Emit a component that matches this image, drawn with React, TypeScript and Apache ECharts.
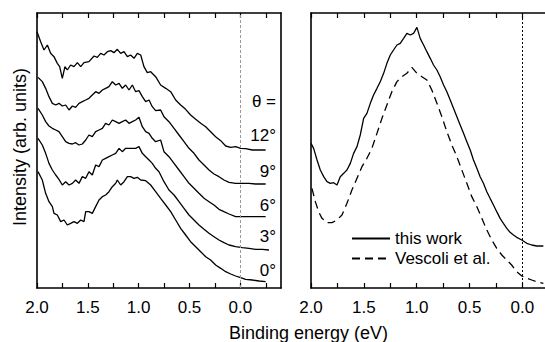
import React, { useEffect, useRef } from "react";
import * as echarts from "echarts";

// ---- Left panel: angle-resolved spectra (binding energy in eV, intensity arb. units) ----
const e12 = [2.0, 1.964, 1.931, 1.898, 1.866, 1.833, 1.8, 1.777, 1.751, 1.725, 1.702, 1.669, 1.636, 1.603, 1.57, 1.538, 1.489, 1.439, 1.407, 1.374, 1.341, 1.308, 1.275, 1.243, 1.21, 1.177, 1.144, 1.111, 1.079, 1.046, 1.013, 0.98, 0.948, 0.915, 0.882, 0.833, 0.784, 0.734, 0.685, 0.636, 0.587, 0.538, 0.489, 0.439, 0.39, 0.341, 0.292, 0.243, 0.193, 0.144, 0.095, 0.046, -0.003, -0.052, -0.118, -0.184, -0.249];
const i12 = [769, 739, 714, 729, 704, 694, 674, 664, 629, 664, 654, 669, 664, 676, 664, 676, 679, 696, 692, 704, 699, 709, 712, 706, 716, 704, 709, 694, 699, 689, 704, 699, 664, 646, 649, 634, 609, 599, 589, 564, 549, 536, 519, 506, 494, 484, 469, 454, 442, 426, 422, 424, 419, 418, 414, 414, 414];

const e9 = [1.99, 1.948, 1.915, 1.882, 1.849, 1.816, 1.784, 1.751, 1.718, 1.685, 1.652, 1.62, 1.587, 1.554, 1.521, 1.489, 1.456, 1.423, 1.39, 1.357, 1.325, 1.292, 1.259, 1.226, 1.193, 1.161, 1.128, 1.095, 1.062, 1.03, 0.997, 0.964, 0.931, 0.898, 0.866, 0.833, 0.784, 0.751, 0.702, 0.652, 0.603, 0.554, 0.505, 0.456, 0.407, 0.357, 0.308, 0.259, 0.21, 0.161, 0.111, 0.046, -0.02, -0.085, -0.151, -0.249];
const i9 = [632, 619, 599, 574, 554, 549, 554, 546, 549, 534, 546, 542, 554, 559, 564, 569, 579, 589, 584, 594, 599, 604, 619, 609, 614, 599, 609, 594, 609, 589, 592, 574, 559, 564, 544, 532, 534, 514, 499, 479, 459, 439, 419, 404, 384, 369, 354, 342, 334, 324, 317, 314, 314, 314, 312, 312];

const e6 = [1.99, 1.948, 1.915, 1.882, 1.849, 1.816, 1.784, 1.751, 1.718, 1.685, 1.652, 1.62, 1.587, 1.554, 1.521, 1.489, 1.456, 1.423, 1.39, 1.357, 1.325, 1.292, 1.259, 1.226, 1.193, 1.161, 1.128, 1.095, 1.062, 1.03, 0.997, 0.964, 0.931, 0.898, 0.866, 0.833, 0.784, 0.751, 0.702, 0.652, 0.603, 0.554, 0.505, 0.456, 0.407, 0.357, 0.308, 0.259, 0.21, 0.161, 0.111, 0.046, -0.02, -0.085, -0.151, -0.249];
const i6 = [539, 519, 499, 486, 479, 474, 469, 454, 439, 434, 432, 436, 429, 432, 444, 459, 454, 469, 474, 479, 494, 489, 504, 499, 494, 499, 504, 494, 499, 504, 512, 484, 469, 464, 449, 439, 444, 409, 394, 374, 354, 334, 314, 299, 284, 269, 259, 249, 236, 229, 222, 214, 214, 214, 214, 214];

const e3 = [1.99, 1.948, 1.915, 1.882, 1.849, 1.816, 1.784, 1.751, 1.718, 1.685, 1.652, 1.62, 1.587, 1.554, 1.521, 1.489, 1.456, 1.423, 1.39, 1.357, 1.325, 1.292, 1.259, 1.226, 1.193, 1.161, 1.128, 1.095, 1.062, 1.03, 0.997, 0.964, 0.931, 0.898, 0.866, 0.833, 0.8, 0.751, 0.702, 0.652, 0.603, 0.554, 0.505, 0.456, 0.407, 0.357, 0.308, 0.259, 0.21, 0.161, 0.111, 0.046, -0.02, -0.085, -0.151, -0.216, -0.282];
const i3 = [449, 429, 404, 374, 354, 339, 326, 309, 319, 309, 314, 324, 314, 334, 329, 349, 339, 369, 364, 384, 389, 394, 399, 404, 419, 409, 419, 419, 419, 419, 424, 404, 394, 384, 374, 359, 349, 319, 294, 279, 259, 239, 219, 204, 189, 176, 164, 154, 144, 136, 129, 124, 121, 119, 116, 116, 114];

const e0 = [1.99, 1.948, 1.915, 1.882, 1.849, 1.833, 1.8, 1.767, 1.734, 1.702, 1.669, 1.636, 1.603, 1.57, 1.538, 1.521, 1.489, 1.456, 1.423, 1.39, 1.357, 1.325, 1.292, 1.259, 1.226, 1.21, 1.177, 1.144, 1.111, 1.079, 1.046, 1.013, 0.98, 0.931, 0.882, 0.833, 0.784, 0.734, 0.685, 0.636, 0.587, 0.538, 0.489, 0.439, 0.39, 0.341, 0.292, 0.243, 0.193, 0.144, 0.095, 0.046, -0.003, -0.052, -0.118, -0.184, -0.249];
const i0 = [349, 324, 284, 259, 244, 224, 219, 199, 204, 189, 194, 199, 194, 204, 199, 229, 229, 224, 244, 264, 274, 279, 289, 304, 314, 324, 309, 319, 334, 334, 329, 332, 324, 322, 309, 289, 269, 249, 229, 204, 179, 159, 139, 124, 109, 94, 84, 69, 59, 49, 42, 36, 31, 26, 24, 21, 19];

// ---- Right panel: comparison ----
const eThis = [2.0, 1.975, 1.943, 1.912, 1.88, 1.849, 1.817, 1.786, 1.754, 1.723, 1.691, 1.66, 1.628, 1.597, 1.565, 1.534, 1.502, 1.471, 1.439, 1.408, 1.376, 1.345, 1.313, 1.282, 1.25, 1.219, 1.187, 1.156, 1.124, 1.093, 1.061, 1.03, 0.998, 0.967, 0.935, 0.904, 0.872, 0.841, 0.809, 0.778, 0.746, 0.715, 0.683, 0.652, 0.62, 0.589, 0.557, 0.526, 0.494, 0.463, 0.431, 0.4, 0.369, 0.337, 0.306, 0.274, 0.243, 0.211, 0.18, 0.148, 0.117, 0.085, 0.054, 0.006, -0.041, -0.088, -0.135, -0.198];
const iThis = [434, 419, 384, 354, 334, 319, 314, 316, 309, 334, 344, 354, 374, 404, 424, 459, 509, 524, 554, 579, 599, 619, 644, 674, 699, 714, 729, 734, 749, 764, 759, 764, 782, 749, 729, 709, 689, 669, 654, 634, 609, 589, 564, 539, 514, 489, 464, 439, 414, 384, 359, 334, 314, 289, 269, 249, 229, 209, 194, 179, 167, 159, 152, 144, 134, 129, 126, 126];

const eVes = [1.991, 1.959, 1.928, 1.896, 1.849, 1.802, 1.754, 1.707, 1.66, 1.613, 1.565, 1.518, 1.471, 1.424, 1.376, 1.329, 1.282, 1.235, 1.187, 1.14, 1.093, 1.046, 0.998, 0.951, 0.904, 0.857, 0.809, 0.762, 0.715, 0.668, 0.62, 0.573, 0.526, 0.479, 0.431, 0.384, 0.337, 0.29, 0.243, 0.195, 0.148, 0.102, 0.054, 0.006, -0.041, -0.088, -0.135, -0.198];
const iVes = [299, 259, 229, 209, 196, 196, 204, 219, 254, 294, 329, 364, 389, 419, 464, 509, 549, 589, 619, 634, 644, 662, 644, 634, 624, 594, 554, 514, 469, 429, 394, 354, 314, 274, 244, 209, 174, 144, 119, 99, 84, 69, 49, 36, 29, 24, 19, 14];

const tickValues = [2.0, 1.75, 1.5, 1.25, 1.0, 0.75, 0.5, 0.25, 0.0, -0.25];
const labelValues = [2.0, 1.5, 1.0, 0.5, 0.0];
const angleLabels = ["θ =", "12°", "9°", "6°", "3°", "0°"];
const seriesNames = ["this work", "Vescoli et al."];

const FONT = '"Liberation Sans", Arial, sans-serif';

const pairs = (xs: number[], ys: number[]) => xs.map((x, i) => [x, ys[i]]);

export default function App() {
  const ref = useRef<HTMLDivElement>(null);
  useEffect(() => {
    if (!ref.current) return;
    const chart = echarts.init(ref.current, undefined, { renderer: "svg" });
    const axisLine = { show: true, onZero: false, lineStyle: { color: "#000", width: 1.6 } };
    const xAxisCfg = (gridIndex: number, min: number, position: string, showLabels: boolean) => ({
      type: "value",
      gridIndex,
      min,
      max: 2.0,
      inverse: true,
      position,
      axisLine,
      axisTick: {
        show: true,
        inside: true,
        length: 5,
        lineStyle: { color: "#000", width: 1.2 },
        customValues: tickValues.filter((v) => v >= min),
      },
      axisLabel: {
        show: showLabels,
        customValues: labelValues,
        formatter: (v: number) => v.toFixed(1),
        fontSize: 17,
        color: "#000",
        fontFamily: FONT,
        margin: 11,
      },
      splitLine: { show: false },
    });
    const yAxisCfg = (gridIndex: number, position: string) => ({
      type: "value",
      gridIndex,
      min: 0,
      max: 825,
      position,
      axisLine,
      axisTick: { show: false },
      axisLabel: { show: false },
      splitLine: { show: false },
    });
    const line = (name: string, data: number[][], grid: number, extra: any = {}) => ({
      type: "line",
      name,
      data,
      xAxisIndex: grid === 0 ? 0 : 2,
      yAxisIndex: grid === 0 ? 0 : 2,
      symbol: "none",
      showSymbol: false,
      lineStyle: { color: "#000", width: 1.3 },
      itemStyle: { color: "#000" },
      ...extra,
    });
    const labelY = [101.7, 135, 171.5, 205, 236.7, 270];
    chart.setOption({
      animation: false,
      grid: [
        { left: 37, top: 13, width: 244, height: 275 },
        { left: 311, top: 13, width: 234, height: 275 },
      ],
      xAxis: [
        xAxisCfg(0, -0.4, "bottom", true),
        xAxisCfg(0, -0.4, "top", false),
        xAxisCfg(1, -0.2135, "bottom", true),
        xAxisCfg(1, -0.2135, "top", false),
      ],
      yAxis: [yAxisCfg(0, "left"), yAxisCfg(0, "right"), yAxisCfg(1, "left")],
      legend: {
        data: seriesNames,
        orient: "vertical",
        left: 351,
        top: 230,
        itemWidth: 38,
        itemHeight: 14,
        itemGap: 3,
        padding: 0,
        itemStyle: { color: "rgba(0,0,0,0)", borderColor: "rgba(0,0,0,0)", borderWidth: 0, opacity: 0 },
        textStyle: { fontSize: 17, color: "#000", fontFamily: FONT },
      },
      series: [
        line("12", pairs(e12, i12), 0, {
          markLine: {
            silent: true,
            symbol: ["none", "none"],
            label: { show: false },
            lineStyle: { color: "#999", type: [3, 2], width: 1 },
            data: [{ xAxis: 0 }],
          },
        }),
        line("9", pairs(e9, i9), 0),
        line("6", pairs(e6, i6), 0),
        line("3", pairs(e3, i3), 0),
        line("0", pairs(e0, i0), 0),
        line(seriesNames[0], pairs(eThis, iThis), 1, {
          markLine: {
            silent: true,
            symbol: ["none", "none"],
            label: { show: false },
            lineStyle: { color: "#000", type: [2, 2], width: 1 },
            data: [{ xAxis: 0 }],
          },
        }),
        line(seriesNames[1], pairs(eVes, iVes), 1, {
          lineStyle: { color: "#000", width: 1.3, type: [8, 5] },
        }),
      ],
      graphic: [
        ...angleLabels.map((t, k) => ({
          type: "text",
          x: 276,
          y: labelY[k],
          style: { text: t, font: `17px ${FONT}`, align: "right", verticalAlign: "middle", fill: "#000" },
        })),
        {
          type: "text",
          x: 20,
          y: 147,
          rotation: Math.PI / 2,
          style: { text: "Intensity (arb. units)", font: `18px ${FONT}`, align: "center", verticalAlign: "middle", fill: "#000" },
        },
        {
          type: "text",
          x: 308.5,
          y: 333,
          style: { text: "Binding energy (eV)", font: `18px ${FONT}`, align: "center", verticalAlign: "middle", fill: "#000" },
        },
      ],
    });
    return () => chart.dispose();
  }, []);
  return (
    <div
      ref={ref}
      style={{ position: "fixed", left: 0, top: 0, width: 545, height: 342, background: "#fff" }}
    />
  );
}
